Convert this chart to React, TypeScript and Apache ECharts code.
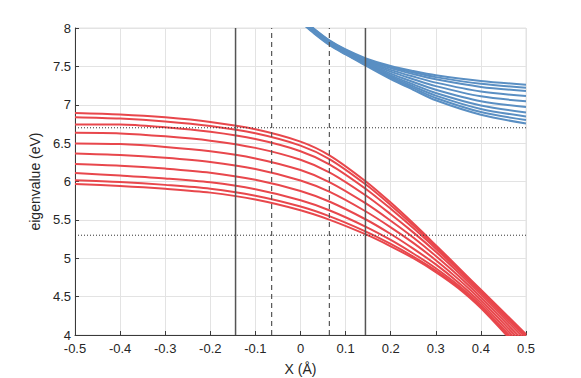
import React, { useEffect, useRef } from "react";
import * as echarts from "echarts";

// x positions (Å) at which the curves were read
const redX = [-0.5, -0.4, -0.3, -0.2, -0.1, 0, 0.065, 0.145, 0.2, 0.25, 0.3, 0.35, 0.4, 0.5];
const red1 = [6.894, 6.874, 6.836, 6.776, 6.681, 6.52, 6.338, 6.0, 5.725, 5.455, 5.17, 4.88, 4.59, 4.01];
const red2 = [6.838, 6.82, 6.782, 6.723, 6.628, 6.468, 6.289, 5.96, 5.692, 5.429, 5.151, 4.865, 4.576, 3.993];
const red3 = [6.743, 6.744, 6.706, 6.647, 6.553, 6.395, 6.221, 5.903, 5.645, 5.393, 5.125, 4.845, 4.556, 3.969];
const red4 = [6.634, 6.627, 6.589, 6.532, 6.438, 6.283, 6.116, 5.817, 5.574, 5.337, 5.085, 4.814, 4.526, 3.933];
const red5 = [6.496, 6.487, 6.45, 6.394, 6.301, 6.149, 5.99, 5.714, 5.489, 5.27, 5.03, 4.772, 4.49, 3.89];
const red6 = [6.366, 6.346, 6.309, 6.255, 6.163, 6.013, 5.864, 5.609, 5.403, 5.2, 4.975, 4.728, 4.454, 3.846];
const red7 = [6.227, 6.205, 6.168, 6.115, 6.023, 5.877, 5.736, 5.505, 5.316, 5.125, 4.92, 4.685, 4.418, 3.802];
const red8 = [6.11, 6.077, 6.04, 5.989, 5.898, 5.755, 5.622, 5.41, 5.239, 5.062, 4.87, 4.648, 4.385, 3.762];
const red9 = [6.016, 5.993, 5.956, 5.906, 5.815, 5.674, 5.546, 5.348, 5.187, 5.022, 4.84, 4.625, 4.363, 3.736];
const red10 = [5.968, 5.942, 5.905, 5.855, 5.765, 5.625, 5.5, 5.31, 5.156, 5.0, 4.82, 4.61, 4.35, 3.72];
const redCurves = [red1, red2, red3, red4, red5, red6, red7, red8, red9, red10];

const blueX = [-0.05, 0, 0.03, 0.065, 0.1, 0.145, 0.2, 0.25, 0.3, 0.4, 0.5];
const blue1 = [8.4, 8.14, 7.99, 7.835, 7.72, 7.605, 7.505, 7.44, 7.385, 7.31, 7.262];
const blue2 = [8.393, 8.133, 7.983, 7.828, 7.713, 7.594, 7.492, 7.421, 7.36, 7.274, 7.223];
const blue3 = [8.387, 8.127, 7.977, 7.822, 7.706, 7.584, 7.477, 7.399, 7.331, 7.232, 7.179];
const blue4 = [8.38, 8.12, 7.97, 7.815, 7.698, 7.573, 7.455, 7.367, 7.288, 7.172, 7.114];
const blue5 = [8.373, 8.113, 7.963, 7.808, 7.691, 7.563, 7.431, 7.333, 7.243, 7.11, 7.045];
const blue6 = [8.367, 8.107, 7.957, 7.802, 7.684, 7.552, 7.406, 7.297, 7.195, 7.045, 6.971];
const blue7 = [8.36, 8.1, 7.95, 7.795, 7.677, 7.542, 7.383, 7.265, 7.153, 6.99, 6.9];
const blue8 = [8.353, 8.093, 7.943, 7.788, 7.67, 7.531, 7.366, 7.239, 7.119, 6.945, 6.848];
const blue9 = [8.347, 8.087, 7.937, 7.782, 7.662, 7.521, 7.35, 7.216, 7.088, 6.905, 6.8];
const blue10 = [8.34, 8.08, 7.93, 7.775, 7.655, 7.51, 7.335, 7.195, 7.058, 6.87, 6.755];
const blueCurves = [blue1, blue2, blue3, blue4, blue5, blue6, blue7, blue8, blue9, blue10];

// reference lines
const solidX = [-0.144, 0.144];
const dashedX = [-0.064, 0.064];
const dottedY = [6.7, 5.3];

const xMin = -0.5;
const xMax = 0.5;
const yMin = 4;
const yMax = 8;

const RED = "#e8474c";
const BLUE = "#5a8fc3";
const FONT = "'Liberation Sans', Arial, Helvetica, sans-serif";

export default function App() {
  const ref = useRef<HTMLDivElement>(null);

  useEffect(() => {
    if (!ref.current) return;
    const chart = echarts.init(ref.current, undefined, { renderer: "svg" });

    const curveSeries = (xs: number[], curves: number[][], color: string) =>
      curves.map((ys) => ({
        type: "line",
        data: xs.map((x, i) => [x, ys[i]]),
        showSymbol: false,
        smooth: 0.3,
        lineStyle: { color, width: 2 },
        itemStyle: { color },
        silent: true,
        z: 2,
      }));

    const vLine = (x: number, type: any, color: string, width: number) => ({
      type: "line",
      data: [
        [x, yMin],
        [x, yMax],
      ],
      showSymbol: false,
      lineStyle: { color, width, type },
      silent: true,
      z: 4,
    });
    const hLine = (y: number) => ({
      type: "line",
      data: [
        [xMin, y],
        [xMax, y],
      ],
      showSymbol: false,
      lineStyle: { color: "#333333", width: 1, type: [1, 2] },
      silent: true,
      z: 4,
    });

    const fmt = (v: number) => String(Number(v.toFixed(2)));

    chart.setOption({
      animation: false,
      backgroundColor: "#ffffff",
      grid: {
        left: 75,
        right: 55,
        top: 28,
        bottom: 43,
        show: true,
        borderColor: "#e3e3e3",
        borderWidth: 1,
        outerBoundsMode: "none",
        containLabel: false,
      },
      xAxis: {
        type: "value",
        min: xMin,
        max: xMax,
        interval: 0.1,
        name: "X (Å)",
        nameLocation: "middle",
        nameGap: 27,
        nameTextStyle: { color: "#262626", fontSize: 14, fontFamily: FONT },
        axisLine: { onZero: false, lineStyle: { color: "#3a3a3a", width: 1 } },
        axisTick: { inside: true, length: 4, lineStyle: { color: "#3a3a3a" } },
        axisLabel: { color: "#262626", fontSize: 13, fontFamily: FONT, margin: 7, formatter: fmt },
        splitLine: { show: true, lineStyle: { color: "#e3e3e3", width: 1 } },
      },
      yAxis: {
        type: "value",
        min: yMin,
        max: yMax,
        interval: 0.5,
        name: "eigenvalue (eV)",
        nameLocation: "middle",
        nameRotate: 90,
        nameGap: 23,
        nameTextStyle: { color: "#262626", fontSize: 14, fontFamily: FONT },
        axisLine: { show: true, onZero: false, lineStyle: { color: "#3a3a3a", width: 1 } },
        axisTick: { show: true, inside: true, length: 4, lineStyle: { color: "#3a3a3a" } },
        axisLabel: { color: "#262626", fontSize: 13, fontFamily: FONT, margin: 4, formatter: fmt },
        splitLine: { show: true, lineStyle: { color: "#e3e3e3", width: 1 } },
      },
      series: [
        ...curveSeries(redX, redCurves, RED),
        ...curveSeries(blueX, blueCurves, BLUE),
        ...solidX.map((x) => vLine(x, "solid", "#555555", 1.5)),
        ...dashedX.map((x) => vLine(x, [5, 4], "#555555", 1.2)),
        ...dottedY.map((y) => hLine(y)),
      ],
    });

    return () => chart.dispose();
  }, []);

  return (
    <div
      ref={ref}
      style={{ position: "fixed", left: 0, top: 0, width: 581, height: 378, background: "#fff" }}
    />
  );
}
